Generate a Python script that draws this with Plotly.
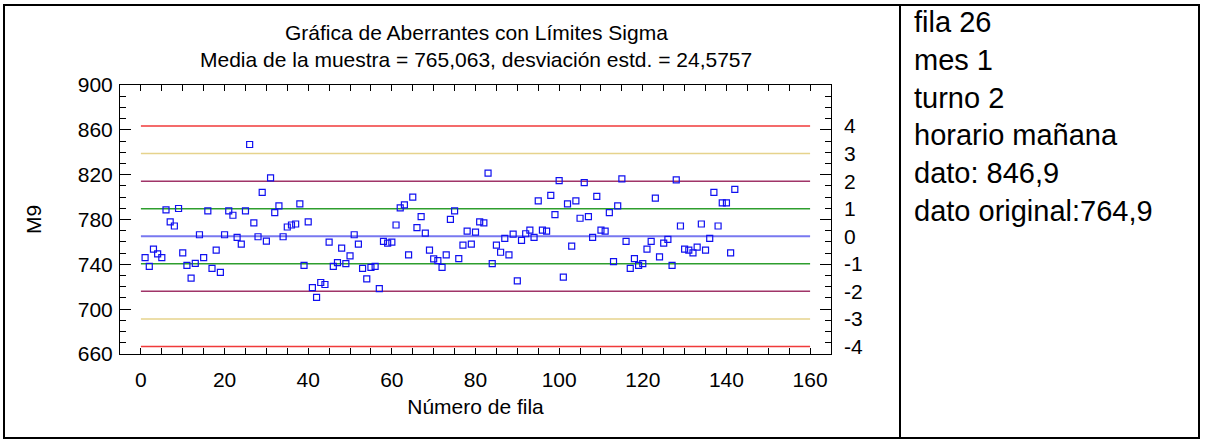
import plotly.graph_objects as go

W, H = 1209, 446

# ---------------- data ----------------
rows = list(range(1, 143))
m9 = [
    746.0, 738.2, 753.5, 749.3, 746.0, 788.6, 777.8, 774.2, 789.8, 750.2,
    739.1, 727.7, 740.9, 766.4, 746.0, 787.7, 736.4, 752.6, 732.8, 766.4,
    787.7, 783.8, 764.0, 758.0, 787.7, 846.9, 776.9, 764.6, 804.2, 760.7,
    817.1, 786.2, 792.2, 764.6, 773.3, 775.1, 776.0, 794.0, 739.1, 777.8,
    719.3, 710.6, 723.8, 722.0, 759.8, 738.2, 741.5, 754.4, 740.6, 747.5,
    766.4, 758.0, 736.4, 727.1, 737.3, 738.2, 718.4, 760.4, 758.9, 759.8,
    775.1, 790.4, 793.1, 748.4, 800.0, 772.7, 782.6, 767.9, 752.6, 744.8,
    743.3, 737.3, 748.4, 780.2, 787.7, 745.1, 757.1, 769.7, 758.0, 768.8,
    777.8, 776.9, 821.3, 740.6, 757.1, 750.8, 763.1, 748.4, 767.0, 725.3,
    761.3, 767.3, 770.6, 764.0, 796.7, 770.6, 769.7, 801.5, 784.4, 814.7,
    728.6, 794.0, 756.2, 796.7, 781.1, 812.9, 782.6, 764.0, 800.6, 770.6,
    769.7, 786.2, 742.4, 792.2, 816.2, 760.4, 736.4, 745.1, 739.1, 740.6,
    753.5, 760.4, 799.1, 746.6, 758.9, 762.2, 739.1, 815.3, 774.2, 753.5,
    752.6, 750.2, 755.3, 776.0, 752.6, 763.1, 804.2, 774.2, 794.9, 794.9,
    750.2, 806.9,
]
mean_value = 765.063
sd_value = 24.5757
sigma_levels = [4, 3, 2, 1, 0, -1, -2, -3, -4]
sigma_labels = ["4", "3", "2", "1", "0", "-1", "-2", "-3", "-4"]
limit_x = [0, 160]
x_ticks = [0, 20, 40, 60, 80, 100, 120, 140, 160]
y_ticks = [660, 700, 740, 780, 820, 860, 900]
y_range = [660, 900]
x_range = [-5, 165]

title_text = "Gráfica de Aberrantes con Límites Sigma"
subtitle_text = "Media de la muestra = 765,063, desviación estd. = 24,5757"
x_title = "Número de fila"
y_title = "M9"
info_lines = ["fila 26", "mes 1", "turno 2", "horario mañana", "dato: 846,9", "dato original:764,9"]

# ---------------- styles ----------------
FONT = "Liberation Sans, Arial, sans-serif"
FS = 21
sigma_colors = {4: "#f03a3a", 3: "#e6d38c", 2: "#a03468", 1: "#2e9e2e", 0: "#7878f0"}

fig = go.Figure()

for k in sigma_levels:
    yv = mean_value + k * sd_value
    fig.add_trace(go.Scatter(
        x=limit_x, y=[yv, yv], mode="lines",
        line=dict(color=sigma_colors[abs(k)], width=2 if k == 0 else 1.5),
        hoverinfo="skip", showlegend=False))

fig.add_trace(go.Scatter(
    x=rows, y=m9, mode="markers",
    marker=dict(symbol="square-open", size=6, color="#1010f0", line=dict(width=1.2, color="#1010f0")),
    showlegend=False))

# invisible trace for the sigma axis
fig.add_trace(go.Scatter(x=[0], y=[0], yaxis="y2", mode="markers",
                         marker=dict(opacity=0), showlegend=False, hoverinfo="skip"))

x0, x1 = 120, 831
y0, y1 = 85, 354

fig.update_layout(
    width=W, height=H,
    margin=dict(l=0, r=0, t=0, b=0),
    paper_bgcolor="white", plot_bgcolor="white",
    font=dict(family=FONT, size=FS, color="black"),
    xaxis=dict(
        domain=[x0 / W, x1 / W], range=x_range,
        tickvals=x_ticks, ticks="inside", ticklen=6, tickwidth=1, tickcolor="black",
        minor=dict(dtick=5, ticks="inside", ticklen=3, tickcolor="black", tick0=0),
        showline=True, linecolor="black", linewidth=1, mirror="allticks",
        showgrid=False, zeroline=False, ticklabelstandoff=7,
        title=dict(text=x_title, standoff=9, font=dict(size=FS)),
        automargin=False,
    ),
    yaxis=dict(
        domain=[1 - y1 / H, 1 - y0 / H], range=y_range,
        tickvals=y_ticks, ticks="inside", ticklen=11, tickwidth=1, tickcolor="black",
        minor=dict(dtick=10, ticks="inside", ticklen=6, tickcolor="black", tick0=660),
        showline=True, linecolor="black", linewidth=1, mirror="allticks",
        showgrid=False, zeroline=False, ticklabelstandoff=2,
        title=dict(text=y_title, standoff=30, font=dict(size=FS)),
        automargin=False,
    ),
    yaxis2=dict(
        overlaying="y", side="right",
        range=[(y_range[0] - mean_value) / sd_value, (y_range[1] - mean_value) / sd_value],
        tickvals=sigma_levels, ticktext=sigma_labels, ticks="", showline=False,
        showgrid=False, zeroline=False, ticklabelstandoff=12, automargin=False,
    ),
)

# titles
fig.add_annotation(text=title_text, x=476 / W, y=1 - 33 / H, xref="paper", yref="paper",
                   showarrow=False, xanchor="center", yanchor="middle", font=dict(size=FS))
fig.add_annotation(text=subtitle_text, x=476 / W, y=1 - 60 / H, xref="paper", yref="paper",
                   showarrow=False, xanchor="center", yanchor="middle", font=dict(size=FS))

# right panel text
for i, line in enumerate(info_lines):
    fig.add_annotation(text=line, x=912 / W, y=1 - (22 + 37.8 * i) / H, xref="paper", yref="paper",
                       showarrow=False, xanchor="left", yanchor="middle", font=dict(size=29))

# frame (table borders)
fig.add_shape(type="rect", xref="paper", yref="paper", x0=4 / W, x1=1199 / W,
              y0=1 - 438 / H, y1=1 - 5 / H, line=dict(color="black", width=2))
fig.add_shape(type="line", xref="paper", yref="paper", x0=900 / W, x1=900 / W,
              y0=1 - 438 / H, y1=1 - 5 / H, line=dict(color="black", width=2))

fig.write_html("out.html")
